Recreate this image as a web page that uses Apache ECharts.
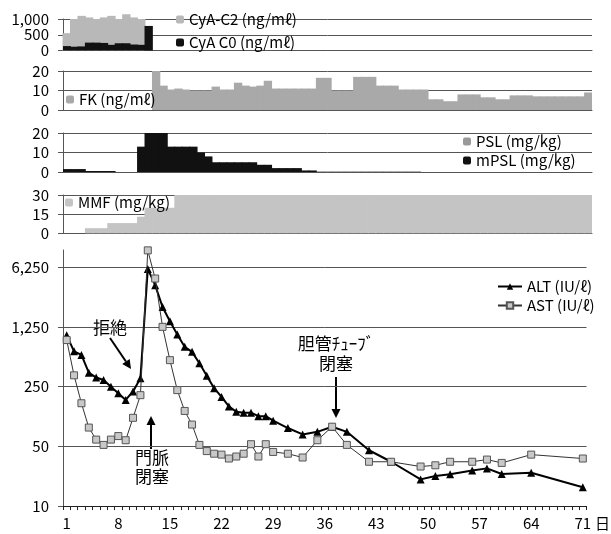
<!DOCTYPE html>
<html><head><meta charset="utf-8">
<script src="https://cdn.jsdelivr.net/npm/echarts@6/dist/echarts.min.js"></script>
<style>html,body{margin:0;padding:0;background:#fff}#c{width:611px;height:534px}</style>
</head><body><div id="c"></div>
<script>
// ---- data ----
const days = [1,2,3,4,5,6,7,8,9,10,11,12,13,14,15,16,17,18,19,20,21,22,23,24,25,26,27,28,29,30,31,32,33,34,35,36,37,38,39,40,41,42,43,44,45,46,47,48,49,50,51,52,53,54,55,56,57,58,59,60,61,62,63,64,65,66,67,68,69,70,71];

const cyaC2Days   = [1,2,3,4,5,6,7,8,9,10,11];
const cyaC2Values = [550,1000,1100,1050,1000,1050,1100,1000,1150,1050,1000];
const cyaC0Days   = [1,2,3,4,5,6,7,8,9,10,11,12];
const cyaC0Values = [140,120,130,250,250,240,180,230,230,190,180,780];

const fkDays   = [13,14,15,16,17,18,19,20,21,22,23,24,25,26,27,28,29,30,31,32,33,34,35,36,37,38,39,40,41,42,43,44,45,46,47,48,49,50,51,52,53,54,55,56,57,58,59,60,61,62,63,64,65,66,67,68,69,70,71];
const fkValues = [20,12.5,10.5,11,10.5,10,10,10,12,10.5,10.5,14,12.5,12,12.5,15,11,11,11,11,11,11,16.5,16.5,10,10,10,17,17,17,12.5,12.5,12.5,10.5,10.5,10.5,10.5,5.5,5.5,4.5,4.5,8,8,8,6.5,6.5,5.5,5.5,7.5,7.5,7.5,7,7,7,7,7,7,7,9];

const mpslDays   = [1,2,3,4,5,6,7,11,12,13,14,15,16,17,18,19,20,21,22,23,24,25,26,27,28,29,30,31,32,33,34];
const mpslValues = [1.5,1.5,1.5,0.5,0.5,0.5,0.5,13,20,20,20,13,13,13,13,10,8,5,5,5,5,5,5,3.7,3.7,2,2,2,2,0.8,0.8];
const pslDays    = [35,36,37,38,39,40,41,42,43,44,45,46,47,48];
const pslValues  = [0.4,0.4,0.4,0.4,0.4,0.4,0.4,0.4,0.4,0.4,0.4,0.4,0.4,0.4];

const mmfDays   = [4,5,6,7,8,9,10,11,12,13,14,15,16,17,18,19,20,21,22,23,24,25,26,27,28,29,30,31,32,33,34,35,36,37,38,39,40,41,42,43,44,45,46,47,48,49,50,51,52,53,54,55,56,57,58,59,60,61,62,63,64,65,66,67,68,69,70,71];
const mmfValues = [4,4,4,8,8,8,8,13,20,20,20,20,30,30,30,30,30,30,30,30,30,30,30,30,30,30,30,30,30,30,30,30,30,30,30,30,30,30,30,30,30,30,30,30,30,30,30,30,30,30,30,30,30,30,30,30,30,30,30,30,30,30,30,30,30,30,30,30];

const altDays   = [1,2,3,4,5,6,7,8,9,10,11,12,13,14,15,16,17,18,19,20,21,22,23,24,25,26,27,28,29,31,33,35,37,39,42,45,49,51,53,56,58,60,64,71];
const altValues = [1000,650,590,365,320,300,250,210,175,220,315,6000,3870,2150,1465,1020,733,640,470,335,240,190,147,127,124,124,113,113,100,82,69,74,85,74,45,33,20.5,22.5,23.5,26,27.6,23.7,24.5,16.6];
const astDays   = [1,2,3,4,5,6,7,8,9,10,11,12,13,14,15,16,17,18,19,20,21,22,23,24,25,26,27,28,29,31,33,35,37,39,42,45,49,51,53,56,58,60,64,71];
const astValues = [880,340,160,83,60,52,60,66,59,108,199,9900,4630,1257,512,228,130,90,52,44,41,40,36,38,41,53,38,53,43,41,37,59,85,52,33,33,29,30,33,33,35,32,40,36];

const cyaTicks = [0,500,1000];
const logTicks = [10,50,250,1250,6250];

// ---- helpers ----
const pairs = (ds, vs) => ds.map((d, i) => [String(d), vs[i]]);
const FONT = 'Noto Sans CJK JP';
const cats = days.map(String);
const gridL = 63, gridR = 19;
const grids = [
  {left: gridL, right: gridR, top: 19,  height: 31.5},
  {left: gridL, right: gridR, top: 71,  height: 39},
  {left: gridL, right: gridR, top: 133, height: 39},
  {left: gridL, right: gridR, top: 195, height: 38.3},
  {left: gridL, right: gridR, top: 250, height: 256}
];
const lineCol = '#555';
function xAx(i, last) {
  return {
    type: 'category', gridIndex: i, data: cats, boundaryGap: true,
    axisLine: {show: true, onZero: false, lineStyle: {color: last ? '#222' : lineCol, width: 1}},
    axisTick: {show: !!last, interval: 0, length: 4, lineStyle: {color: '#222'}},
    axisLabel: last ? {show: true, interval: 6, fontSize: 15, color: '#000', margin: 10, fontFamily: FONT} : {show: false},
    splitLine: {show: false},
    name: last ? '日' : '', nameLocation: 'end', nameGap: 3,
    nameTextStyle: {fontSize: 15, color: '#000', fontFamily: FONT, verticalAlign: 'top', padding: [10, 0, 0, 0]}
  };
}
function yAx(i, max, interval, fmt) {
  return {
    type: 'value', gridIndex: i, min: 0, max: max, interval: interval,
    axisLine: {show: true, lineStyle: {color: lineCol}},
    axisTick: {show: true, length: 5, lineStyle: {color: lineCol}},
    axisLabel: {fontSize: 15, color: '#000', margin: 14, fontFamily: FONT, formatter: fmt || (v => v.toLocaleString('en-US'))},
    splitLine: {show: true, lineStyle: {color: lineCol, width: 1}}
  };
}
function arrow(x1, y1, x2, y2) {
  const a = Math.atan2(y2 - y1, x2 - x1), L = 9, W = 4.5;
  const bx = x2 - L * Math.cos(a), by = y2 - L * Math.sin(a);
  const px = -Math.sin(a) * W, py = Math.cos(a) * W;
  return [
    {type: 'line', shape: {x1: x1, y1: y1, x2: bx, y2: by}, style: {stroke: '#000', lineWidth: 2}},
    {type: 'polygon', shape: {points: [[x2, y2], [bx + px, by + py], [bx - px, by - py]]}, style: {fill: '#000'}}
  ];
}
const fill = c => ({color: c, borderWidth: 0});
const BW = '112%';
const legendBase = {orient: 'vertical', padding: 0, itemWidth: 8, itemHeight: 8, itemGap: 4,
  textStyle: {fontSize: 15, color: '#000', fontFamily: FONT}, selectedMode: false};

const chart = echarts.init(document.getElementById('c'), null, {renderer: 'canvas'});
chart.setOption({
  animation: false,
  backgroundColor: '#fff',
  textStyle: {fontFamily: FONT},
  grid: grids,
  xAxis: [xAx(0), xAx(1), xAx(2), xAx(3), xAx(4, true)],
  yAxis: [
    yAx(0, 1000, 500),
    yAx(1, 20, 10),
    yAx(2, 20, 10),
    yAx(3, 30, 15),
    {
      type: 'log', gridIndex: 4, logBase: 5, min: 10, max: 10000,
      axisLine: {show: true, lineStyle: {color: lineCol}},
      axisTick: {show: true, length: 5, lineStyle: {color: lineCol}, customValues: logTicks},
      axisLabel: {fontSize: 15, color: '#000', margin: 14, fontFamily: FONT, customValues: logTicks,
                  formatter: v => Number(v).toLocaleString('en-US')},
      splitLine: {show: true, lineStyle: {color: lineCol, width: 1}}
    }
  ],
  legend: [
    Object.assign({}, legendBase, {data: ['CyA-C2 (ng/mℓ)'], left: 176, top: 12}),
    Object.assign({}, legendBase, {data: ['CyA C0 (ng/mℓ)'], left: 176, top: 35}),
    Object.assign({}, legendBase, {data: ['FK (ng/mℓ)'], left: 66, top: 92}),
    Object.assign({}, legendBase, {data: ['PSL (mg/kg)', 'mPSL (mg/kg)'], left: 463, top: 134, itemGap: 4}),
    Object.assign({}, legendBase, {data: ['MMF (mg/kg)'], left: 65, top: 195}),
    Object.assign({}, legendBase, {data: ['ALT (IU/ℓ)', 'AST (IU/ℓ)'], left: 497, top: 279, itemWidth: 24, itemHeight: 8, itemGap: 4})
  ],
  series: [
    {name: 'CyA-C2 (ng/mℓ)', type: 'bar', xAxisIndex: 0, yAxisIndex: 0, barGap: '-100%', barWidth: BW, clip: false,
     itemStyle: fill('#b8b8b8'), data: pairs(cyaC2Days, cyaC2Values)},
    {name: 'CyA C0 (ng/mℓ)', type: 'bar', xAxisIndex: 0, yAxisIndex: 0, barGap: '-100%', barWidth: BW,
     itemStyle: fill('#111'), data: pairs(cyaC0Days, cyaC0Values)},
    {name: 'FK (ng/mℓ)', type: 'bar', xAxisIndex: 1, yAxisIndex: 1, barWidth: BW,
     itemStyle: fill('#a9a9a9'), data: pairs(fkDays, fkValues)},
    {name: 'PSL (mg/kg)', type: 'bar', xAxisIndex: 2, yAxisIndex: 2, barGap: '-100%', barWidth: BW,
     itemStyle: fill('#999'), data: pairs(pslDays, pslValues)},
    {name: 'mPSL (mg/kg)', type: 'bar', xAxisIndex: 2, yAxisIndex: 2, barGap: '-100%', barWidth: BW,
     itemStyle: fill('#111'), data: pairs(mpslDays, mpslValues)},
    {name: 'MMF (mg/kg)', type: 'bar', xAxisIndex: 3, yAxisIndex: 3, barWidth: BW,
     itemStyle: fill('#c4c4c4'), data: pairs(mmfDays, mmfValues)},
    {name: 'ALT (IU/ℓ)', type: 'line', xAxisIndex: 4, yAxisIndex: 4, symbol: 'triangle', symbolSize: 8, showAllSymbol: true,
     lineStyle: {color: '#000', width: 2}, itemStyle: {color: '#000'}, data: pairs(altDays, altValues), z: 3},
    {name: 'AST (IU/ℓ)', type: 'line', xAxisIndex: 4, yAxisIndex: 4, symbol: 'rect', symbolSize: 7, showAllSymbol: true,
     lineStyle: {color: '#333', width: 1}, itemStyle: {color: '#c8c8c8', borderColor: '#555', borderWidth: 1},
     data: pairs(astDays, astValues), z: 4}
  ],
  graphic: [
    {type: 'text', style: {text: '拒絶', x: 110, y: 328, align: 'center', verticalAlign: 'middle', fontSize: 17, fontFamily: FONT, fill: '#000'}},
    ...arrow(110, 338, 131, 369),
    {type: 'text', style: {text: '門脈\n閉塞', x: 152, y: 467, align: 'center', verticalAlign: 'middle', fontSize: 17, lineHeight: 19, fontFamily: FONT, fill: '#000'}},
    ...arrow(151, 449, 151, 416),
    {type: 'text', style: {text: '胆管ﾁｭｰﾌﾞ\n閉塞', x: 336, y: 354, align: 'center', verticalAlign: 'middle', fontSize: 17, lineHeight: 20, fontFamily: FONT, fill: '#000'}},
    ...arrow(336, 377, 336, 418)
  ]
});
</script></body></html>
